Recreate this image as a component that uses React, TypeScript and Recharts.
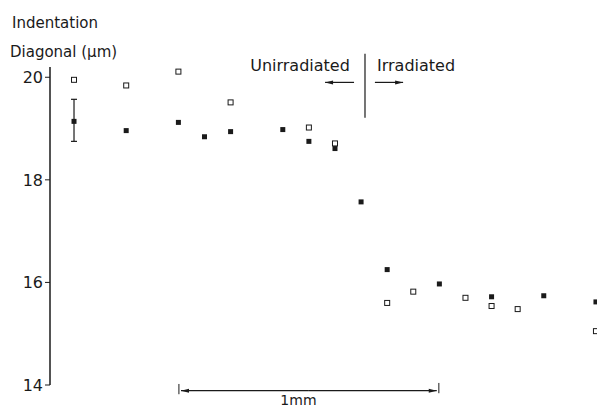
import { ScatterChart, Scatter, XAxis, YAxis, ErrorBar, ReferenceLine, ReferenceDot } from "recharts";

// positions along the specimen (mm) and indentation diagonals (µm)
const filledPos = [0, 0.2, 0.4, 0.5, 0.6, 0.8, 0.9, 1.0, 1.1, 1.2, 1.4, 1.6, 1.8, 2.0];
const filledVal = [19.14, 18.96, 19.12, 18.84, 18.94, 18.98, 18.75, 18.61, 17.57, 16.25, 15.97, 15.72, 15.74, 15.62];
const openPos = [0, 0.2, 0.4, 0.6, 0.9, 1.0, 1.2, 1.3, 1.5, 1.6, 1.7, 2.0];
const openVal = [19.95, 19.84, 20.11, 19.51, 19.02, 18.71, 15.6, 15.82, 15.7, 15.54, 15.48, 15.05];
const errPos = [0];
const errVal = [19.14];
const errRange = [[0.39, 0.43]];
const yTicks = [14, 16, 18, 20];

const filled = filledPos.map((x, i) => ({ x, y: filledVal[i] }));
const open = openPos.map((x, i) => ({ x, y: openVal[i] }));
const errPts = errPos.map((x, i) => ({ x, y: errVal[i], err: errRange[i] }));

const INK = "#1a1a1a";
const FONT = "'DejaVu Sans', sans-serif";

const FilledSquare = (p: any) => (
  <rect x={p.cx - 2.5} y={p.cy - 2.5} width={5} height={5} fill={INK} />
);
const OpenSquare = (p: any) => (
  <rect x={p.cx - 2.5} y={p.cy - 2.5} width={5} height={5} fill="#fff" stroke={INK} strokeWidth={1} />
);

const arrowLine = (p: any) => {
  const { x1, y1, x2, y2 } = p;
  const dir = Math.sign(x2 - x1);
  return (
    <g>
      <line x1={x1} y1={y1} x2={x2} y2={y2} stroke={INK} strokeWidth={1.2} />
      <polygon
        points={`${x2},${y2} ${x2 - dir * 8},${y2 - 2} ${x2 - dir * 8},${y2 + 2}`}
        fill={INK}
      />
    </g>
  );
};

const label = (text: string, anchor: string, size = 16) => (p: any) => (
  <text x={p.cx} y={p.cy} textAnchor={anchor} dominantBaseline="central" fontFamily={FONT} fontSize={size} fill={INK}>
    {text}
  </text>
);

export default function App() {
  return (
    <div style={{ position: "absolute", left: 0, top: 0, width: 600, height: 410, background: "#fff" }}>
      <div style={{ position: "absolute", left: 12, top: 12, fontFamily: FONT, fontSize: 15, color: INK, lineHeight: "22px" }}>
        Indentation
      </div>
      <div style={{ position: "absolute", left: 10, top: 41, fontFamily: FONT, fontSize: 15, color: INK, lineHeight: "22px" }}>
        Diagonal (μm)
      </div>
      <ScatterChart width={600} height={410} margin={{ top: 67, right: 3, bottom: 25, left: 0 }}>
        <XAxis
          type="number"
          dataKey="x"
          domain={[-0.092, 2.004]}
          allowDataOverflow
          tick={false}
          tickLine={false}
          height={0}
          axisLine={{ stroke: INK, strokeWidth: 1.5 }}
        />
        <YAxis
          type="number"
          dataKey="y"
          domain={[14, 20.2]}
          ticks={yTicks}
          allowDataOverflow
          width={50}
          tickSize={5}
          tickLine={{ stroke: INK }}
          axisLine={{ stroke: INK, strokeWidth: 1.5 }}
          tick={{ fill: INK, fontSize: 16, fontFamily: FONT }}
        />
        <ReferenceLine
          segment={[{ x: 1.115, y: 20.46 }, { x: 1.115, y: 19.21 }]}
          stroke={INK}
          strokeWidth={1.2}
          ifOverflow="visible"
        />
        <ReferenceLine
          segment={[{ x: 1.073, y: 19.9 }, { x: 0.962, y: 19.9 }]}
          shape={arrowLine}
          ifOverflow="visible"
        />
        <ReferenceLine
          segment={[{ x: 1.153, y: 19.9 }, { x: 1.261, y: 19.9 }]}
          shape={arrowLine}
          ifOverflow="visible"
        />
        <ReferenceDot x={1.057} y={20.22} ifOverflow="visible" shape={label("Unirradiated", "end")} />
        <ReferenceDot x={1.161} y={20.22} ifOverflow="visible" shape={label("Irradiated", "start")} />
        {/* 1 mm scale bar */}
        <ReferenceLine
          segment={[{ x: 0.402, y: 14.02 }, { x: 0.402, y: 13.82 }]}
          stroke={INK}
          ifOverflow="visible"
        />
        <ReferenceLine
          segment={[{ x: 1.398, y: 14.04 }, { x: 1.398, y: 13.84 }]}
          stroke={INK}
          ifOverflow="visible"
        />
        <ReferenceLine
          segment={[{ x: 0.9, y: 13.89 }, { x: 0.41, y: 13.89 }]}
          shape={arrowLine}
          ifOverflow="visible"
        />
        <ReferenceLine
          segment={[{ x: 0.9, y: 13.89 }, { x: 1.39, y: 13.89 }]}
          shape={arrowLine}
          ifOverflow="visible"
        />
        <ReferenceDot x={0.86} y={13.7} ifOverflow="visible" shape={label("1mm", "middle", 14)} />
        <Scatter data={open} shape={OpenSquare} isAnimationActive={false} />
        <Scatter data={filled} shape={FilledSquare} isAnimationActive={false} />
        <Scatter data={errPts} shape={() => <g />} isAnimationActive={false}>
          <ErrorBar dataKey="err" direction="y" width={3} stroke={INK} strokeWidth={1.2} />
        </Scatter>
      </ScatterChart>
    </div>
  );
}
